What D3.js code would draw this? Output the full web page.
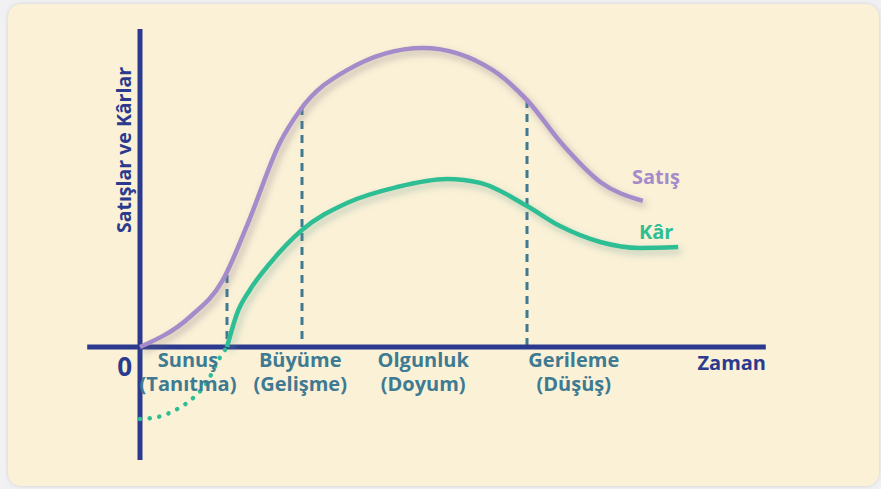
<!DOCTYPE html>
<html>
<head>
<meta charset="utf-8">
<script src="https://cdn.jsdelivr.net/npm/d3@7"></script>
<style>
  body { margin:0; background:#f1f0f3; }
  svg text { font-family:"Open Sans", sans-serif; font-weight:700; }
</style>
</head>
<body>
<div id="graph1"></div>
<script>
// time (x) and value (y)
var salesT  = [0, 0.83, 1.38, 1.8, 2.33, 2.67, 3.45, 4.72, 5.88, 6.45, 7.05, 7.67, 8.38]
var salesV  = [0, 1.0, 2.23, 4.13, 6.8, 7.9, 9.23, 9.97, 9.23, 8.23, 6.73, 5.5, 4.87]
var profitT = [1.45, 1.62, 1.83, 2.17, 2.7, 3.45, 4.28, 5.12, 5.67, 6.45, 7.0, 7.67, 8.33, 8.97]
var profitV = [0, 1.13, 1.9, 2.8, 3.9, 4.8, 5.33, 5.6, 5.47, 4.7, 4.03, 3.5, 3.3, 3.33]
var lossT   = [0, 0.3, 0.62, 0.9, 1.12, 1.28, 1.45]
var lossV   = [-2.4, -2.33, -2.07, -1.67, -1.17, -0.53, 0]
var phaseTop    = ["Sunuş", "Büyüme", "Olgunluk", "Gerileme"]
var phaseBottom = ["(Tanıtma)", "(Gelişme)", "(Doyum)", "(Düşüş)"]
var phaseMid    = [0.8, 2.67, 4.72, 7.23]
var borderT = [1.45, 2.7, 6.45]
var borderV = [2.4, 8.0, 8.23]

var width = 881, height = 489
var xscale = d3.scaleLinear().domain([0, 10]).range([140, 740])
var yscale = d3.scaleLinear().domain([0, 10]).range([347, 47])

var svg = d3.select("#graph1").append("svg")
  .attr("width", width)
  .attr("height", height)

var defs = svg.append("defs")
function shadow(id, color){
  defs.append("filter").attr("id", id)
    .attr("x", "-20%").attr("y", "-20%").attr("width", "140%").attr("height", "140%")
   .append("feDropShadow")
    .attr("dx", 3).attr("dy", 4).attr("stdDeviation", 3.5)
    .attr("flood-color", color).attr("flood-opacity", 0.45)
}
shadow("shPurple", "#7a6a78")
shadow("shGreen", "#6a9a8c")
defs.append("filter").attr("id", "card")
  .append("feDropShadow").attr("dx", 0).attr("dy", 0).attr("stdDeviation", 2)
  .attr("flood-color", "#bbb").attr("flood-opacity", 0.6)

svg.append("rect")
  .attr("x", 8).attr("y", 4).attr("width", 871).attr("height", 482)
  .attr("rx", 13)
  .attr("fill", "#faf1d7")
  .attr("filter", "url(#card)")

var axisColor = "#2b3a8e", phaseColor = "#3e7a92"
var purple = "#a58bc9", green = "#2ebe93"

// dashed phase borders
svg.selectAll(".border")
  .data(borderT)
 .enter().append("line")
  .attr("x1", function(d){ return xscale(d) })
  .attr("x2", function(d){ return xscale(d) })
  .attr("y1", function(d, i){ return yscale(borderV[i]) })
  .attr("y2", yscale(0))
  .attr("stroke", phaseColor)
  .attr("stroke-width", 3)
  .attr("stroke-dasharray", "8,6")

// axes
svg.append("line")
  .attr("x1", xscale(-0.88)).attr("x2", xscale(10.43))
  .attr("y1", yscale(0)).attr("y2", yscale(0))
  .attr("stroke", axisColor).attr("stroke-width", 5)
svg.append("line")
  .attr("x1", xscale(0)).attr("x2", xscale(0))
  .attr("y1", yscale(10.6)).attr("y2", yscale(-3.77))
  .attr("stroke", axisColor).attr("stroke-width", 5)

var line = d3.line()
  .x(function(d){ return xscale(d[0]) })
  .y(function(d){ return yscale(d[1]) })
  .curve(d3.curveMonotoneX)

svg.append("path")
  .attr("d", line(d3.zip(lossT, lossV)))
  .attr("fill", "none")
  .attr("stroke", green)
  .attr("stroke-width", 4.5)
  .attr("stroke-linecap", "round")
  .attr("stroke-dasharray", "0.1,9.6")

svg.append("path")
  .attr("d", line(d3.zip(salesT, salesV)))
  .attr("fill", "none")
  .attr("stroke", purple)
  .attr("stroke-width", 4.5)
  .attr("filter", "url(#shPurple)")

svg.append("path")
  .attr("d", line(d3.zip(profitT, profitV)))
  .attr("fill", "none")
  .attr("stroke", green)
  .attr("stroke-width", 4.5)
  .attr("filter", "url(#shGreen)")

// texts
svg.selectAll(".ptop")
  .data(phaseTop)
 .enter().append("text")
  .attr("x", function(d, i){ return xscale(phaseMid[i]) })
  .attr("y", 367)
  .attr("text-anchor", "middle")
  .attr("font-size", 20)
  .attr("fill", phaseColor)
  .text(function(d){ return d })
svg.selectAll(".pbot")
  .data(phaseBottom)
 .enter().append("text")
  .attr("x", function(d, i){ return xscale(phaseMid[i]) })
  .attr("y", 391)
  .attr("text-anchor", "middle")
  .attr("font-size", 20)
  .attr("fill", phaseColor)
  .text(function(d){ return d })

svg.append("text")
  .attr("x", 132).attr("y", 376)
  .attr("text-anchor", "end")
  .attr("font-size", 26)
  .attr("fill", axisColor)
  .text("0")

svg.append("text")
  .attr("x", 766).attr("y", 370)
  .attr("text-anchor", "end")
  .attr("font-size", 20)
  .attr("fill", axisColor)
  .text("Zaman")

svg.append("text")
  .attr("transform", "translate(131,150) rotate(-90)")
  .attr("text-anchor", "middle")
  .attr("font-size", 19.5)
  .attr("fill", axisColor)
  .text("Satışlar ve Kârlar")

svg.append("text")
  .attr("x", 632).attr("y", 184)
  .attr("font-size", 20)
  .attr("fill", purple)
  .text("Satış")

svg.append("text")
  .attr("x", 639).attr("y", 239)
  .attr("font-size", 20)
  .attr("fill", green)
  .text("Kâr")
</script>
</body>
</html>
